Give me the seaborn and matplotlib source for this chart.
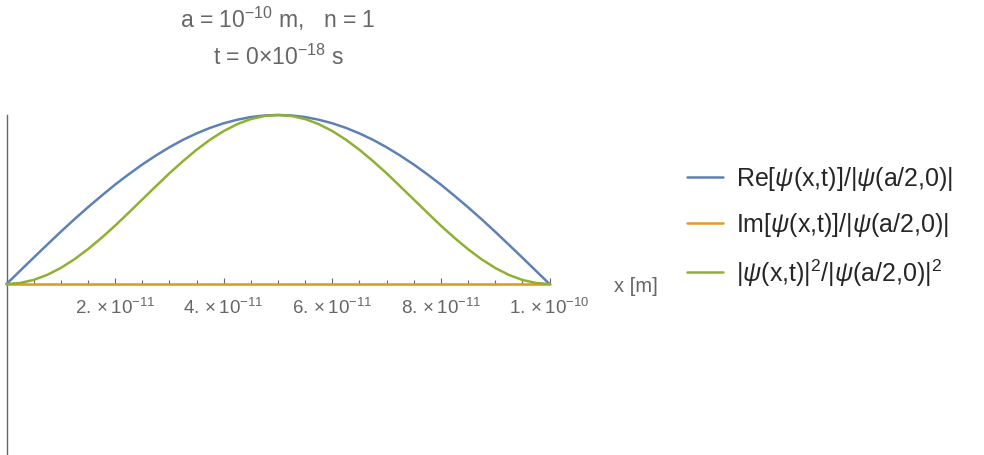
import numpy as np
import pandas as pd
import seaborn as sns
import matplotlib.pyplot as plt
from matplotlib.ticker import MultipleLocator, FixedFormatter, FixedLocator

# Data (x in units of a = 1e-10 m)
a = 1e-10
x_frac = [0, 0.025, 0.05, 0.075, 0.1, 0.125, 0.15, 0.175, 0.2, 0.225, 0.25,
          0.275, 0.3, 0.325, 0.35, 0.375, 0.4, 0.425, 0.45, 0.475, 0.5,
          0.525, 0.55, 0.575, 0.6, 0.625, 0.65, 0.675, 0.7, 0.725, 0.75,
          0.775, 0.8, 0.825, 0.85, 0.875, 0.9, 0.925, 0.95, 0.975, 1.0]
re_psi = [0, .078, .156, .233, .309, .383, .454, .522, .588, .649, .707,
          .760, .809, .853, .891, .924, .951, .972, .988, .997, 1.0,
          .997, .988, .972, .951, .924, .891, .853, .809, .760, .707,
          .649, .588, .522, .454, .383, .309, .233, .156, .078, 0]
im_psi = [0] * 41
prob = [0, .006, .024, .054, .095, .146, .206, .273, .345, .422, .5,
        .578, .655, .727, .794, .854, .905, .946, .976, .994, 1.0,
        .994, .976, .946, .905, .854, .794, .727, .655, .578, .5,
        .422, .345, .273, .206, .146, .095, .054, .024, .006, 0]

labels = [r"Re[$\psi$(x,t)]/|$\psi$(a/2,0)|",
          r"Im[$\psi$(x,t)]/|$\psi$(a/2,0)|",
          r"|$\psi$(x,t)$|^{2}$/|$\psi$(a/2,0)$|^{2}$"]
colors = ["#5E81B5", "#E19C24", "#8FB032"]
tick_pos = [2e-11, 4e-11, 6e-11, 8e-11, 1e-10]
tick_labels = [r"$2.\times10^{-11}$", r"$4.\times10^{-11}$", r"$6.\times10^{-11}$",
               r"$8.\times10^{-11}$", r"$1.\times10^{-10}$"]

x = np.array(x_frac) * a
df = pd.DataFrame({"x": np.tile(x, 3),
                   "y": re_psi + im_psi + prob,
                   "series": np.repeat(labels, len(x))})

sns.set_style("white")
plt.rcParams['font.family'] = ['Liberation Sans', 'DejaVu Sans']
plt.rcParams['mathtext.fontset'] = 'custom'
plt.rcParams['mathtext.rm'] = 'Liberation Sans'
plt.rcParams['mathtext.it'] = 'Liberation Sans:italic'
plt.rcParams['mathtext.bf'] = 'Liberation Sans:bold'

gray = "#666666"
fig = plt.figure(figsize=(9.84, 4.56), dpi=100)
ax = fig.add_axes([6.5 / 984, 1 - 455 / 456, 543 / 984, 339 / 456])

sns.lineplot(data=df, x="x", y="y", hue="series", palette=colors,
             linewidth=1.8, ax=ax, legend=False, clip_on=False, zorder=5)

ax.set_xlim(0, a)
ax.set_ylim(-1.006, 1.0)
for s in ["top", "right"]:
    ax.spines[s].set_visible(False)
ax.spines["bottom"].set_position(("data", 0))
ax.spines["left"].set_color(gray)
ax.spines["bottom"].set_color(gray)
ax.spines["left"].set_linewidth(1.0)
ax.spines["bottom"].set_linewidth(1.0)
ax.set_yticks([])
ax.xaxis.set_major_locator(FixedLocator(tick_pos))
ax.xaxis.set_major_formatter(FixedFormatter(tick_labels))
ax.xaxis.set_minor_locator(MultipleLocator(0.5e-11))
ax.tick_params(axis="x", which="both", bottom=True)
ax.tick_params(axis="x", which="major", direction="in", length=4, width=0.8,
               color=gray, labelcolor=gray, labelsize=13.5, pad=9)
ax.tick_params(axis="x", which="minor", direction="in", length=3, width=0.8,
               color=gray)
ax.set_xlabel("")
ax.set_ylabel("")
fig.text(614 / 984, 1 - 287 / 456, "x [m]", color=gray, fontsize=14.5,
         va="center", ha="left")

# title
fig.text(278 / 984, 1 - 19 / 456, r"a = $10^{-10}$ m,   n = 1", color=gray,
         fontsize=16.5, ha="center", va="center")
fig.text(278 / 984, 1 - 57 / 456, r"t = 0$\times$$10^{-18}$ s", color=gray,
         fontsize=16.5, ha="center", va="center")

# legend
handles = [plt.Line2D([], [], color=c, lw=1.8) for c in colors]
leg = fig.legend(handles, labels, loc="center left",
                 bbox_to_anchor=(664 / 984, 1 - 227 / 456), frameon=False,
                 fontsize=18, handlelength=1.45, labelspacing=0.72,
                 handletextpad=0.55)

fig.savefig("out.png", dpi=100)
